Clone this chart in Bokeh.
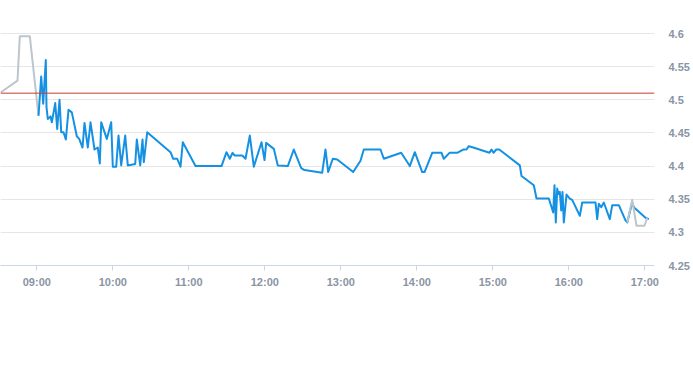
import pandas as pd
from bokeh.plotting import figure
from bokeh.models import FixedTicker, DatetimeTickFormatter, Span, Range1d, ColumnDataSource
from bokeh.embed import file_html
from bokeh.resources import INLINE

DAY = "2024-01-02 "

# main session (blue)
price_times = [
    "09:01:20", "09:03:28", "09:05:03", "09:07:06", "09:07:39", "09:08:41", "09:10:49", "09:11:51",
    "09:14:32", "09:16:06", "09:17:55", "09:19:16", "09:21:05", "09:22:54", "09:25:02", "09:27:38",
    "09:31:35", "09:33:28", "09:36:05", "09:37:39", "09:40:16", "09:42:24", "09:45:33", "09:48:09",
    "09:49:44", "09:50:51", "09:55:16", "09:58:44", "10:00:00", "10:02:41", "10:04:30", "10:06:38",
    "10:09:47", "10:11:50", "10:17:41", "10:18:57", "10:21:38", "10:23:27", "10:24:28", "10:27:09",
    "10:45:33", "10:47:41", "10:50:50", "10:53:27", "10:55:16", "11:05:17", "11:25:49", "11:29:46",
    "11:32:22", "11:34:30", "11:36:05", "11:42:10", "11:44:46", "11:48:09", "11:51:19", "11:57:24",
    "11:59:46", "12:01:06", "12:07:06", "12:10:16", "12:18:10", "12:22:53", "12:28:44", "12:31:20",
    "12:45:19", "12:47:55", "12:50:03", "12:53:41", "12:57:10", "13:09:47", "13:15:33", "13:18:09",
    "13:31:20", "13:33:57", "13:47:41", "13:54:28", "13:58:25", "14:04:16", "14:06:05", "14:12:10",
    "14:19:30", "14:21:19", "14:25:49", "14:31:53", "14:36:38", "14:39:14", "14:41:03", "14:44:32",
    "14:57:23", "14:58:58", "15:00:33", "15:02:41", "15:05:03", "15:21:19", "15:22:40", "15:32:22",
    "15:34:30", "15:44:13", "15:47:41", "15:48:43", "15:49:44", "15:50:51", "15:51:52", "15:52:54",
    "15:54:00", "15:55:02", "15:56:03", "15:58:11", "16:00:47", "16:02:41", "16:08:41", "16:10:35",
    "16:21:05", "16:22:25", "16:23:41", "16:25:35", "16:27:38", "16:32:22", "16:34:16", "16:39:28",
    "16:44:46", "16:46:07", "16:50:03", "16:51:19", "17:00:33", "17:03:10",
]
price_values = [
    4.476, 4.535, 4.494, 4.560, 4.489, 4.471, 4.475, 4.466,
    4.495, 4.456, 4.500, 4.451, 4.451, 4.440, 4.485, 4.481,
    4.445, 4.441, 4.428, 4.465, 4.428, 4.466, 4.425, 4.428,
    4.404, 4.466, 4.441, 4.466, 4.399, 4.399, 4.446, 4.401,
    4.446, 4.401, 4.403, 4.440, 4.401, 4.440, 4.406, 4.451,
    4.421, 4.411, 4.411, 4.399, 4.436, 4.400, 4.400, 4.421,
    4.411, 4.420, 4.416, 4.416, 4.411, 4.446, 4.399, 4.436,
    4.409, 4.435, 4.426, 4.401, 4.400, 4.425, 4.397, 4.394,
    4.390, 4.425, 4.391, 4.411, 4.410, 4.391, 4.408, 4.425,
    4.425, 4.411, 4.420, 4.400, 4.421, 4.391, 4.391, 4.420,
    4.420, 4.411, 4.420, 4.420, 4.425, 4.425, 4.430, 4.428,
    4.420, 4.425, 4.420, 4.425, 4.425, 4.401, 4.385, 4.371,
    4.351, 4.351, 4.330, 4.371, 4.315, 4.366, 4.358, 4.361,
    4.333, 4.361, 4.315, 4.357, 4.351, 4.349, 4.325, 4.345,
    4.345, 4.320, 4.343, 4.338, 4.345, 4.320, 4.341, 4.341,
    4.318, 4.315, 4.345, 4.338, 4.322, 4.320,
]

# extended session before the open (grey)
pre_times = ["08:31:20", "08:44:46", "08:46:35", "08:54:28", "09:01:20"]
pre_values = [4.511, 4.529, 4.596, 4.596, 4.476]

# extended session near the close (grey)
post_times = ["16:46:07", "16:50:03", "16:53:27", "16:59:46", "17:01:53"]
post_values = [4.315, 4.349, 4.310, 4.310, 4.322]

reference_level = 4.51
y_ticks = [4.25, 4.30, 4.35, 4.40, 4.45, 4.50, 4.55, 4.60]
y_tick_labels = ["4.25", "4.3", "4.35", "4.4", "4.45", "4.5", "4.55", "4.6"]
x_tick_labels = ["09:00", "10:00", "11:00", "12:00", "13:00", "14:00", "15:00", "16:00", "17:00"]


def ts(lst):
    return [pd.Timestamp(DAY + t) for t in lst]


LABEL_COLOR = "#8a94a4"
FONT = "Liberation Sans"

p = figure(
    x_axis_type="datetime",
    y_axis_location="right",
    width=692,
    frame_height=265,
    min_border_left=0,
    min_border_top=0,
    min_border_right=38,
    output_backend="svg",
    toolbar_location=None,
    x_range=Range1d(pd.Timestamp(DAY + "08:31:20"), pd.Timestamp(DAY + "17:07:39")),
    y_range=Range1d(4.25, 4.6498),
)
p.outline_line_color = None
p.background_fill_color = "white"
p.border_fill_color = "white"

p.xgrid.grid_line_color = None
p.ygrid.grid_line_color = "#e6e6e6"
p.ygrid.grid_line_width = 1

xa = p.xaxis[0]
xa.ticker = FixedTicker(ticks=[pd.Timestamp(DAY + t).value // 10**6 for t in x_tick_labels])
xa.formatter = DatetimeTickFormatter(hours="%H:%M", hourmin="%H:%M", minutes="%H:%M",
                                     minsec="%H:%M", days="%H:%M", context=None)
xa.axis_line_color = "#ccd6eb"
xa.major_tick_line_color = "#ccd6eb"
xa.major_tick_in = 0
xa.major_tick_out = 5
xa.minor_tick_line_color = None
xa.major_label_text_color = LABEL_COLOR
xa.major_label_text_font = FONT
xa.major_label_text_font_size = "11px"
xa.major_label_text_font_style = "bold"
xa.major_label_standoff = 5

ya = p.yaxis[0]
ya.ticker = FixedTicker(ticks=y_ticks)
ya.major_label_overrides = {v: s for v, s in zip(y_ticks, y_tick_labels)}
ya.axis_line_color = None
ya.major_tick_line_color = None
ya.minor_tick_line_color = None
ya.major_label_text_color = LABEL_COLOR
ya.major_label_text_font = FONT
ya.major_label_text_font_size = "11px"
ya.major_label_text_font_style = "bold"
ya.major_label_standoff = 8

p.add_layout(Span(location=reference_level, dimension="width", line_color="#cc3b2f", line_width=1))

pre_src = ColumnDataSource(dict(t=ts(pre_times), v=pre_values))
main_src = ColumnDataSource(dict(t=ts(price_times), v=price_values))
post_src = ColumnDataSource(dict(t=ts(post_times), v=post_values))

p.line("t", "v", source=pre_src, line_color="#bcc6cd", line_width=2, line_join="round")
p.line("t", "v", source=main_src, line_color="#1591e3", line_width=2, line_join="round")
p.line("t", "v", source=post_src, line_color="#bcc6cd", line_width=2, line_join="round")

open("out.html", "w").write(file_html(p, INLINE))
